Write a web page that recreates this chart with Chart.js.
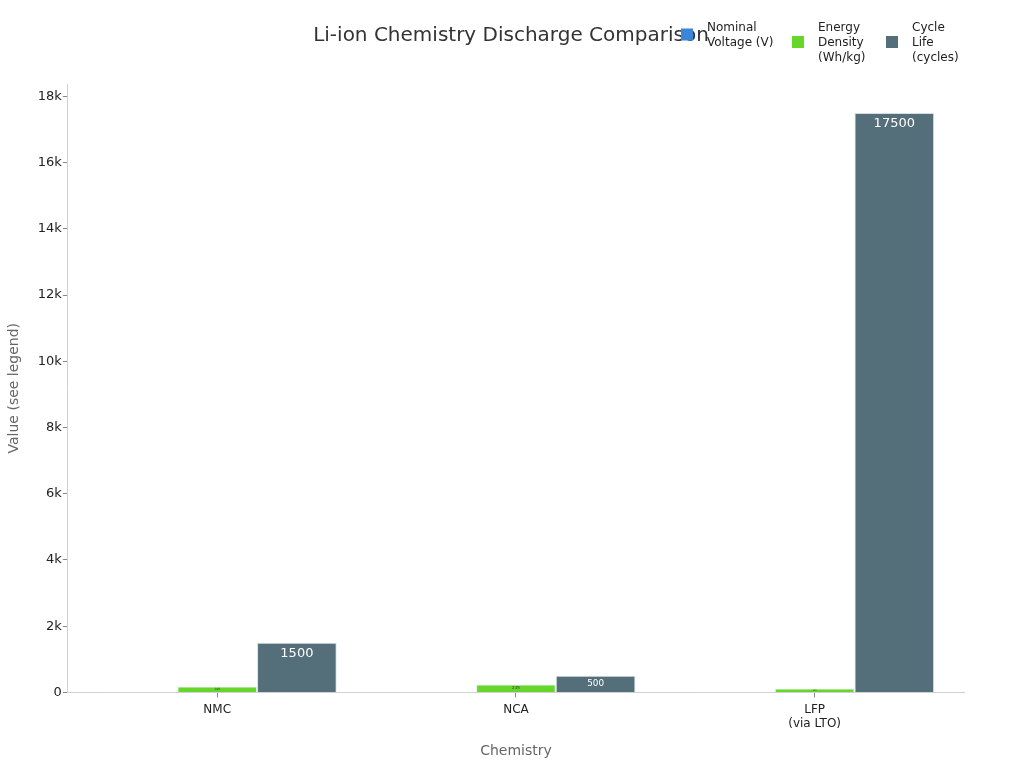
<!DOCTYPE html>
<html><head><meta charset="utf-8">
<script src="https://cdn.jsdelivr.net/npm/chart.js@4.4.0/dist/chart.umd.min.js"></script>
<style>html,body{margin:0;padding:0;background:#fff}#wrap{width:1024px;height:768px}</style>
</head><body><div id="wrap"><canvas id="c" width="1024" height="768"></canvas></div>
<script>
const categories = ["NMC", "NCA", ["LFP", "(via LTO)"]];
const seriesNames = [["Nominal", "Voltage (V)"], ["Energy", "Density", "(Wh/kg)"], ["Cycle", "Life", "(cycles)"]];
const nominalVoltage = [3.7, 3.6, 3.2];
const energyDensity = [180, 235, 120];
const cycleLife = [1500, 500, 17500];
const yTicks = [0, 2000, 4000, 6000, 8000, 10000, 12000, 14000, 16000, 18000];
const colors = ["#3a86d8", "#66d62a", "#546e7a"];
const FONT = "'DejaVu Sans', sans-serif";

const titlePlugin = {
  id: 'titleLegend',
  afterDraw(chart) {
    const ctx = chart.ctx;
    ctx.save();
    ctx.font = "20px " + FONT;
    ctx.fillStyle = "#333";
    ctx.textAlign = "center";
    ctx.textBaseline = "middle";
    ctx.fillText("Li-ion Chemistry Discharge Comparison", 511, 36);
    const xs = [681, 792, 886];
    ctx.font = "12px " + FONT;
    ctx.textAlign = "left";
    chart.data.datasets.forEach((ds, i) => {
      const lines = ds.label;
      const lh = 15;
      const top = 28;
      const h = lines.length * lh;
      const cy = top + h / 2 - lh / 2 - 1;
      ctx.fillStyle = ds.backgroundColor;
      ctx.fillRect(xs[i], cy - 6, 12, 12);
      ctx.fillStyle = "#222";
      lines.forEach((t, j) => ctx.fillText(t, xs[i] + 26, top + j * lh));
    });
    ctx.restore();
  }
};

const labelPlugin = {
  id: 'barLabels',
  afterDatasetsDraw(chart) {
    const ctx = chart.ctx;
    ctx.save();
    chart.data.datasets.forEach((ds, di) => {
      if (di === 0) return;
      const meta = chart.getDatasetMeta(di);
      meta.data.forEach((bar, i) => {
        const h = bar.base - bar.y;
        const size = Math.min(13, h * 0.55);
        if (size < 1.5) return;
        ctx.font = size + "px " + FONT;
        ctx.fillStyle = di === 2 ? "#ffffff" : "#333";
        ctx.textAlign = "center";
        ctx.textBaseline = "middle";
        const y = bar.y + Math.min(10.5, h / 2);
        ctx.fillText(String(ds.data[i]), bar.x, y);
      });
    });
    ctx.restore();
  }
};

new Chart(document.getElementById('c'), {
  type: 'bar',
  data: {
    labels: categories,
    datasets: [
      { label: seriesNames[0], data: nominalVoltage, backgroundColor: colors[0], borderColor: "#e3eaee", borderWidth: 1 },
      { label: seriesNames[1], data: energyDensity, backgroundColor: colors[1], borderColor: "#e3eaee", borderWidth: 1 },
      { label: seriesNames[2], data: cycleLife, backgroundColor: colors[2], borderColor: "#d5e0e6", borderWidth: 1 }
    ]
  },
  options: {
    responsive: false,
    animation: false,
    devicePixelRatio: 1,
    layout: { padding: { top: 84, right: 60, left: 2, bottom: 4 } },
    datasets: { bar: { categoryPercentage: 0.8, barPercentage: 1.0 } },
    plugins: { legend: { display: false }, title: { display: false }, tooltip: { enabled: false } },
    scales: {
      x: {
        grid: { display: true, offset: false, drawOnChartArea: false, drawTicks: true, tickLength: 5, color: "#888" },
        border: { color: "#d0d0d0" },
        ticks: { color: "#222", font: { family: FONT, size: 12 }, padding: 5 },
        title: { display: true, text: "Chemistry", color: "#666", font: { family: FONT, size: 14 }, padding: { top: 7 } }
      },
      y: {
        min: 0, max: 18375,
        afterBuildTicks(axis) { axis.ticks = yTicks.map(v => ({ value: v })); },
        grid: { display: true, drawOnChartArea: false, drawTicks: true, tickLength: 5, color: "#888" },
        border: { color: "#d0d0d0" },
        ticks: { color: "#222", font: { family: FONT, size: 13 }, padding: 1,
          callback: v => v === 0 ? "0" : (v / 1000) + "k" },
        title: { display: true, text: "Value (see legend)", color: "#666", font: { family: FONT, size: 14 }, padding: { bottom: 14 } }
      }
    }
  },
  plugins: [labelPlugin, titlePlugin]
});
</script></body></html>
